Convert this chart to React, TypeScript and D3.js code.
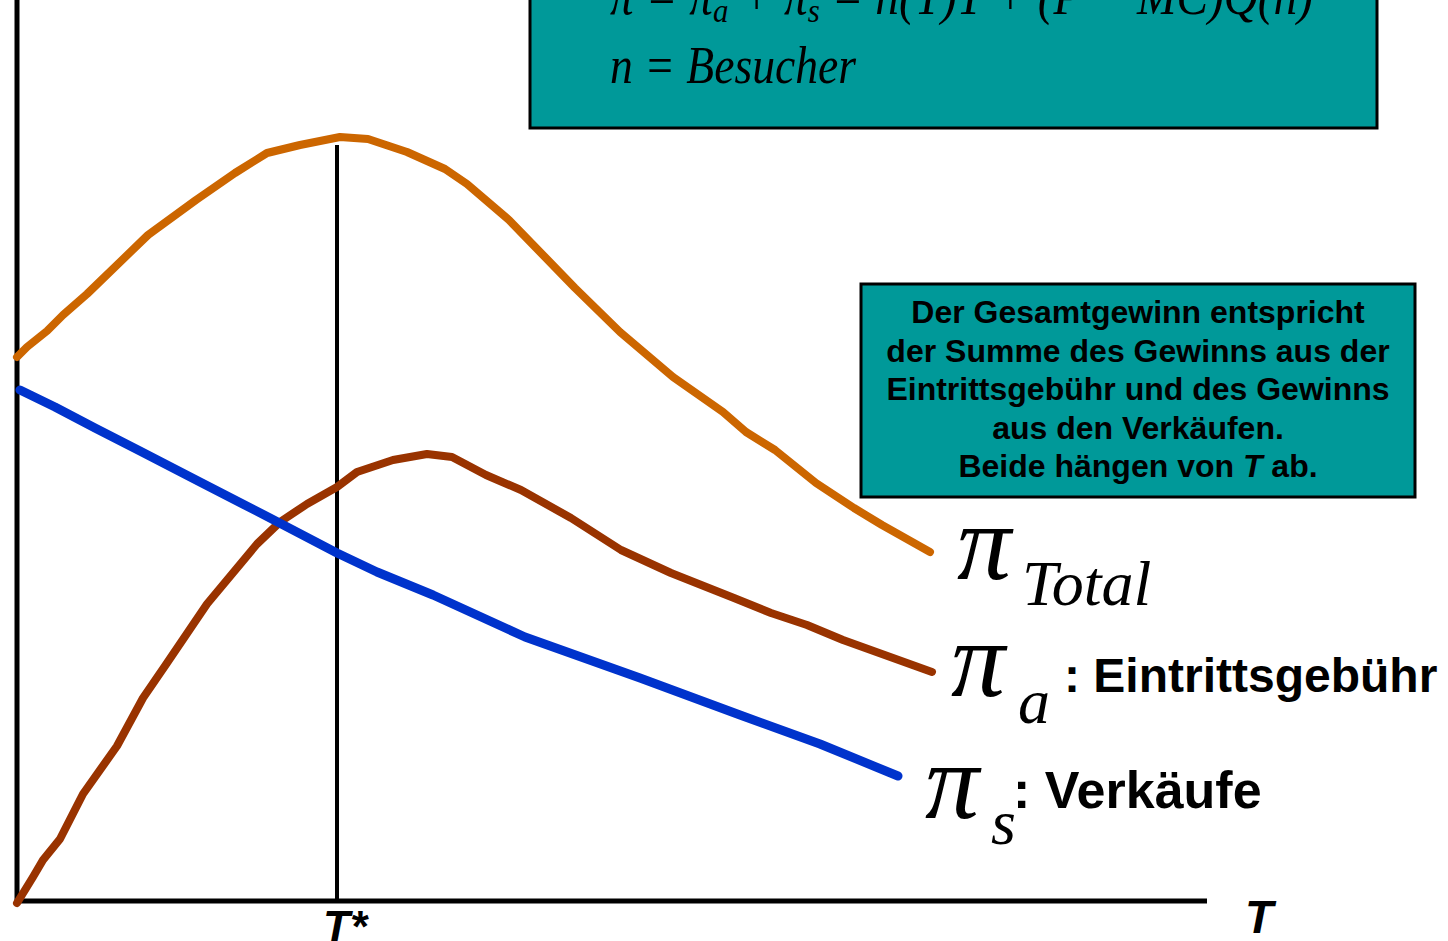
import React from "react";
import * as d3 from "d3";

// ---- data (chart units) ----
const totalT = [0, 1.0, 3.0, 4.6, 7.0, 13.1, 17.9, 21.8, 25.0, 28.3, 32.3, 35.1, 39.0, 42.8, 45.0, 49.2, 55.8, 60.3, 65.6, 70.6, 72.9, 75.8, 79.9, 83.7, 86.5, 91.3];
const totalProfit = [54.4, 55.4, 57.0, 58.6, 60.7, 66.6, 70.1, 72.8, 74.8, 75.6, 76.4, 76.2, 74.9, 73.2, 71.7, 68.1, 61.3, 56.9, 52.4, 48.9, 46.9, 45.1, 41.8, 39.3, 37.6, 34.9];

const feeT = [0, 1.6, 2.6, 4.3, 6.6, 10.0, 12.6, 15.0, 19.0, 24.0, 26.3, 29.0, 32.0, 34.0, 37.6, 41.0, 43.5, 46.9, 50.4, 55.4, 60.4, 65.4, 71.7, 75.4, 79.0, 82.6, 91.5];
const feeProfit = [-0.2, 2.4, 4.1, 6.2, 10.7, 15.5, 20.3, 23.8, 29.7, 35.7, 37.9, 39.7, 41.4, 42.9, 44.1, 44.7, 44.4, 42.6, 41.1, 38.3, 35.1, 32.8, 30.3, 28.8, 27.6, 26.1, 22.9];

const salesT = [0.3, 3.8, 7.8, 12.3, 18.3, 25.3, 32.0, 36.0, 41.6, 50.8, 62.3, 72.3, 80.3, 88.1];
const salesProfit = [51.1, 49.4, 47.3, 45.0, 41.9, 38.3, 34.8, 32.9, 30.6, 26.4, 22.3, 18.6, 15.7, 12.5];

const tStar = 32.0;
const tStarTop = 75.6;
const xMax = 119;
const yMax = 90;

const infoLines = [
  "Der Gesamtgewinn entspricht",
  "der Summe des Gewinns aus der",
  "Eintrittsgebühr und des Gewinns",
  "aus den Verkäufen.",
];

const W = 1448;
const H = 941;

const SANS = "'Liberation Sans', Arial, sans-serif";
const SERIF = "'Liberation Serif', 'Times New Roman', serif";
const TEAL = "#009999";

export default function App() {
  const x = d3.scaleLinear().domain([0, xMax]).range([17, 1207]);
  const y = d3.scaleLinear().domain([0, yMax]).range([901, 1]);

  const line = d3
    .line<[number, number]>()
    .x((d) => x(d[0]))
    .y((d) => y(d[1]))
    .curve(d3.curveLinear);

  const totalPath = line(totalT.map((t, i) => [t, totalProfit[i]]));
  const feePath = line(feeT.map((t, i) => [t, feeProfit[i]]));
  const salesPath = line(salesT.map((t, i) => [t, salesProfit[i]]));

  return (
    <svg
      width={W}
      height={H}
      viewBox={`0 0 ${W} ${H}`}
      style={{ position: "absolute", left: 0, top: 0, background: "#fff" }}
    >
      {/* formula box */}
      <rect x={530} y={-20} width={847} height={148} fill={TEAL} stroke="#000" strokeWidth={3} />
      <text
        x={610}
        y={14}
        fontFamily={SERIF}
        fontStyle="italic"
        fontSize={52}
        fill="#000"
        textLength={703}
        lengthAdjust="spacingAndGlyphs"
      >
        π = π<tspan fontSize={34} dy={8}>a</tspan>
        <tspan dy={-8}> + π</tspan>
        <tspan fontSize={34} dy={8}>s</tspan>
        <tspan dy={-8}> = n(T)T + (P − MC)Q(n)</tspan>
      </text>
      <text
        x={610}
        y={83}
        fontFamily={SERIF}
        fontStyle="italic"
        fontSize={52}
        fill="#000"
        textLength={246}
        lengthAdjust="spacingAndGlyphs"
      >
        n = Besucher
      </text>

      {/* info box */}
      <rect x={861} y={284} width={554} height={213} fill={TEAL} stroke="#000" strokeWidth={3} />
      {infoLines.map((l, i) => (
        <text
          key={i}
          x={1138}
          y={323 + i * 38.5}
          textAnchor="middle"
          fontFamily={SANS}
          fontWeight="bold"
          fontSize={32}
          fill="#000"
        >
          {l}
        </text>
      ))}
      <text x={1138} y={323 + 4 * 38.5} textAnchor="middle" fontFamily={SANS} fontWeight="bold" fontSize={32} fill="#000">
        Beide hängen von <tspan fontStyle="italic">T</tspan> ab.
      </text>

      {/* axes */}
      <line x1={x(0)} y1={0} x2={x(0)} y2={y(0) + 2} stroke="#000" strokeWidth={5} />
      <line x1={x(0) - 2} y1={y(0)} x2={x(xMax)} y2={y(0)} stroke="#000" strokeWidth={5} />
      <line x1={x(tStar)} y1={y(tStarTop)} x2={x(tStar)} y2={y(0)} stroke="#000" strokeWidth={4} />

      {/* curves */}
      <path d={totalPath ?? ""} fill="none" stroke="#CC6600" strokeWidth={8} strokeLinecap="round" strokeLinejoin="round" />
      <path d={feePath ?? ""} fill="none" stroke="#993300" strokeWidth={8} strokeLinecap="round" strokeLinejoin="round" />
      <path d={salesPath ?? ""} fill="none" stroke="#0033CC" strokeWidth={9} strokeLinecap="round" strokeLinejoin="round" />

      {/* axis labels */}
      <text x={x(tStar) + 8} y={942} textAnchor="middle" fontFamily={SANS} fontWeight="bold" fontStyle="italic" fontSize={44}>
        T*
      </text>
      <text x={1245} y={933} fontFamily={SANS} fontWeight="bold" fontStyle="italic" fontSize={46}>
        T
      </text>

      {/* curve labels */}
      <text x={957} y={579} fontFamily={SERIF} fontStyle="italic" fontSize={108}>π</text>
      <text x={1022} y={605} fontFamily={SERIF} fontStyle="italic" fontSize={64}>Total</text>

      <text x={951} y={696} fontFamily={SERIF} fontStyle="italic" fontSize={108}>π</text>
      <text x={1018} y={723} fontFamily={SERIF} fontStyle="italic" fontSize={64}>a</text>
      <text x={1064} y={692} fontFamily={SANS} fontWeight="bold" fontSize={48}>: Eintrittsgebühr</text>

      <text x={925} y={818} fontFamily={SERIF} fontStyle="italic" fontSize={108}>π</text>
      <text x={991} y={844} fontFamily={SERIF} fontStyle="italic" fontSize={64}>s</text>
      <text x={1013} y={808} fontFamily={SANS} fontWeight="bold" fontSize={52}>: Verkäufe</text>
    </svg>
  );
}
